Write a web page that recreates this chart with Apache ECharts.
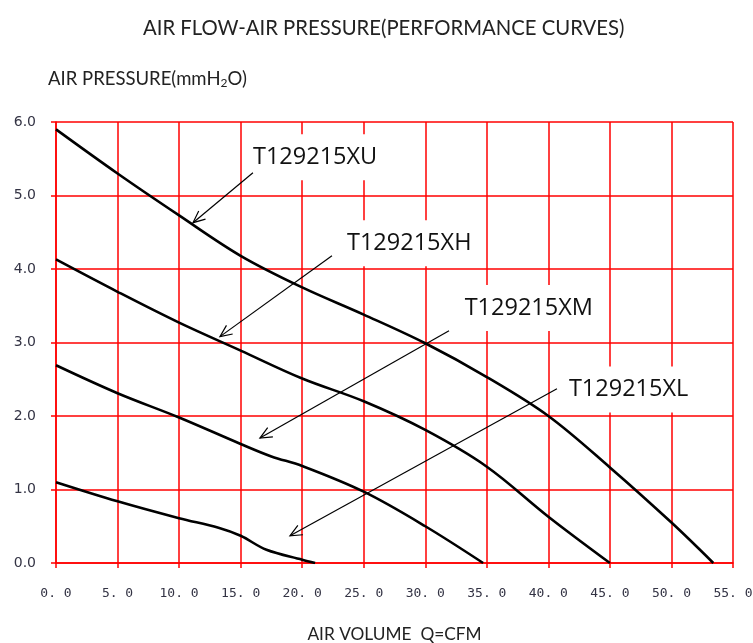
<!DOCTYPE html>
<html><head><meta charset="utf-8">
<script src="https://cdn.jsdelivr.net/npm/echarts@6/dist/echarts.min.js"></script>
<style>html,body{margin:0;padding:0;background:#fff}#c{width:753px;height:643px}</style>
</head><body><div id="c"></div>
<script>
// ---- data ----
const seriesNames = ['T129215XU', 'T129215XH', 'T129215XM', 'T129215XL'];
const xuFlow = [0, 5, 10, 15, 20, 25, 30, 35, 40, 45, 50, 53.4];
const xuPressure = [5.90, 5.30, 4.73, 4.18, 3.75, 3.38, 2.99, 2.53, 2.00, 1.30, 0.55, 0];
const xhFlow = [0, 5, 10, 15, 20, 25, 30, 35, 40, 45.0];
const xhPressure = [4.13, 3.69, 3.27, 2.89, 2.51, 2.20, 1.81, 1.31, 0.63, 0];
const xmFlow = [0, 5, 10, 15, 17.5, 20, 25, 30, 34.7];
const xmPressure = [2.69, 2.31, 1.98, 1.62, 1.45, 1.32, 0.97, 0.50, 0];
const xlFlow = [0, 5, 10, 13.2, 15, 17.1, 20, 21.05];
const xlPressure = [1.10, 0.84, 0.61, 0.48, 0.37, 0.18, 0.045, 0];
const xTicks = [0, 55, 5];   // min, max, interval
const yTicks = [0, 6, 1];
// annotation anchors (data units): label left/middle, arrow start, arrow tip
const labelAt = [[16.0, 5.52], [23.64, 4.35], [33.2, 3.47], [41.67, 2.36]];
const arrowFrom = [[16.0, 5.31], [22.42, 4.18], [31.93, 3.16], [40.70, 2.37]];
const arrowTo = [[11.13, 4.63], [13.32, 3.08], [16.57, 1.70], [19.01, 0.37]];

const flows = [xuFlow, xhFlow, xmFlow, xlFlow];
const pressures = [xuPressure, xhPressure, xmPressure, xlPressure];

const chart = echarts.init(document.getElementById('c'), null, {renderer: 'canvas'});
const RED = '#ff0000';
const baseFont = 'Lato';

const option = {
  animation: false,
  backgroundColor: '#fff',
  title: [
    {text: 'AIR FLOW-AIR PRESSURE(PERFORMANCE CURVES)', left: 138, top: 13,
     textStyle: {fontFamily: baseFont, fontSize: 20.3, fontWeight: 'normal', color: '#222'}},
    {text: 'AIR PRESSURE(mmH{sub|2}O)', left: 43, top: 64,
     textStyle: {fontFamily: baseFont, fontSize: 18.5, fontWeight: 'normal', color: '#222',
       rich: {sub: {fontFamily: baseFont, fontSize: 12, color: '#222', verticalAlign: 'bottom', padding: [8, 0, 0, 0]}}}}
  ],
  grid: {left: 56, right: 20, top: 122, bottom: 80, containLabel: false, outerBoundsMode: 'none'},
  xAxis: {
    type: 'value', min: xTicks[0], max: xTicks[1], interval: xTicks[2],
    name: 'AIR VOLUME  Q=CFM', nameLocation: 'middle', nameGap: 63,
    nameTextStyle: {fontFamily: baseFont, fontSize: 17.3, color: '#222'},
    axisLine: {show: true, lineStyle: {color: RED, width: 1.5}},
    axisTick: {show: true, length: 5, lineStyle: {color: RED, width: 1.5}},
    axisLabel: {margin: 24, fontFamily: 'DejaVu Sans Mono', fontSize: 13, color: '#334',
      formatter: v => v.toFixed(1).replace('.', '. ')},
    splitLine: {show: true, lineStyle: {color: RED, width: 1.5}}
  },
  yAxis: {
    type: 'value', min: yTicks[0], max: yTicks[1], interval: yTicks[2],
    axisLine: {show: true, lineStyle: {color: RED, width: 1.5}},
    axisTick: {show: true, length: 5, lineStyle: {color: RED, width: 1.5}},
    axisLabel: {margin: 20, fontFamily: 'DejaVu Sans', fontSize: 14, color: '#334',
      formatter: v => v.toFixed(1)},
    splitLine: {show: true, lineStyle: {color: RED, width: 1.5}}
  },
  series: seriesNames.map((n, i) => ({
    name: n, type: 'line', smooth: 0.35, symbol: 'none',
    lineStyle: {color: '#000', width: 2.6},
    data: flows[i].map((f, k) => [f, pressures[i][k]]),
    z: 3
  }))
};
chart.setOption(option);

function drawAnnotations() {
  const g = [];
  seriesNames.forEach((n, i) => {
    const lp = chart.convertToPixel({gridIndex: 0}, labelAt[i]);
    const a0 = chart.convertToPixel({gridIndex: 0}, arrowFrom[i]);
    const a1 = chart.convertToPixel({gridIndex: 0}, arrowTo[i]);
    g.push({type: 'text', x: lp[0] - 10, y: lp[1], z: 10,
      style: {text: n, fontFamily: 'Open Sans', fontSize: 23.5, fill: '#111',
        verticalAlign: 'middle', align: 'left', backgroundColor: '#fff', padding: [11, 10, 11, 10]}});
    g.push({type: 'line', z: 11, shape: {x1: a0[0], y1: a0[1], x2: a1[0], y2: a1[1]},
      style: {stroke: '#000', lineWidth: 1.2}});
    const ang = Math.atan2(a0[1] - a1[1], a0[0] - a1[0]);
    const L = 13, spread = 0.42;
    const p1 = [a1[0] + L * Math.cos(ang + spread), a1[1] + L * Math.sin(ang + spread)];
    const p2 = [a1[0] + L * Math.cos(ang - spread), a1[1] + L * Math.sin(ang - spread)];
    g.push({type: 'polyline', z: 11, shape: {points: [p1, a1, p2]},
      style: {stroke: '#000', lineWidth: 1.2, fill: null}});
  });
  chart.setOption({graphic: g});
}
drawAnnotations();
</script></body></html>
